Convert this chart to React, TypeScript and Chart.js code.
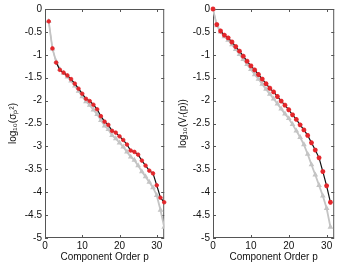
import React, { useEffect, useRef } from "react";
import { Chart, registerables } from "chart.js";

Chart.register(...registerables);

const pLeft = [1, 2, 3, 4, 5, 6, 7, 8, 9, 10, 11, 12, 13, 14, 15, 16, 17, 18, 19, 20, 21, 22, 23, 24, 25, 26, 27, 28, 29, 30, 31, 32];
const sigmaRed = [-0.27, -0.86, -1.17, -1.33, -1.39, -1.45, -1.53, -1.63, -1.74, -1.85, -1.96, -2.01, -2.09, -2.19, -2.34, -2.46, -2.53, -2.66, -2.7, -2.78, -2.86, -2.96, -3.09, -3.12, -3.18, -3.31, -3.42, -3.53, -3.59, -3.85, -4.12, -4.22];
const sigmaGray = [-0.27, -0.87, -1.15, -1.32, -1.4, -1.48, -1.57, -1.68, -1.79, -1.91, -2.02, -2.1, -2.2, -2.3, -2.43, -2.55, -2.63, -2.76, -2.83, -2.92, -3.01, -3.12, -3.23, -3.3, -3.42, -3.55, -3.66, -3.78, -3.9, -4.07, -4.39, -4.76];

const pRight = [0, 1, 2, 3, 4, 5, 6, 7, 8, 9, 10, 11, 12, 13, 14, 15, 16, 17, 18, 19, 20, 21, 22, 23, 24, 25, 26, 27, 28, 29, 30, 31];
const vRed = [0, -0.34, -0.48, -0.57, -0.63, -0.72, -0.82, -0.92, -1.03, -1.14, -1.24, -1.33, -1.43, -1.53, -1.63, -1.73, -1.81, -1.91, -2.01, -2.1, -2.2, -2.31, -2.41, -2.53, -2.64, -2.76, -2.92, -3.08, -3.25, -3.55, -3.86, -4.22];
const vGray = [0, -0.36, -0.5, -0.6, -0.68, -0.78, -0.88, -0.99, -1.1, -1.21, -1.32, -1.43, -1.53, -1.64, -1.75, -1.86, -1.96, -2.07, -2.18, -2.29, -2.39, -2.52, -2.66, -2.8, -2.96, -3.17, -3.4, -3.62, -3.85, -4.08, -4.35, -4.76];

const xTicks = [0, 10, 20, 30];
const yTicks = [0, -0.5, -1, -1.5, -2, -2.5, -3, -3.5, -4, -4.5, -5];

const FONT = "'Liberation Sans', Arial, sans-serif";
const RED = "#e3262b";
const GRAY = "#c4c4c4";

const framePlugin = {
  id: "frame",
  beforeDatasetsDraw(chart: any) {
    const { ctx, chartArea } = chart;
    const { left, right, top, bottom } = chartArea;
    ctx.save();
    ctx.strokeStyle = "#555";
    ctx.lineWidth = 1;
    ctx.strokeRect(left + 0.5, top + 0.5, right - left - 1, bottom - top - 1);
    const xs = chart.scales.x;
    const ys = chart.scales.y;
    ctx.beginPath();
    xTicks.forEach((v) => {
      const px = Math.round(xs.getPixelForValue(v)) + 0.5;
      ctx.moveTo(px, bottom);
      ctx.lineTo(px, bottom - 3);
      ctx.moveTo(px, top);
      ctx.lineTo(px, top + 3);
    });
    yTicks.forEach((v) => {
      const py = Math.round(ys.getPixelForValue(v)) + 0.5;
      ctx.moveTo(left, py);
      ctx.lineTo(left + 3, py);
      ctx.moveTo(right, py);
      ctx.lineTo(right - 3, py);
    });
    ctx.stroke();
    ctx.restore();
  },
};

function makeConfig(
  xs: number[],
  red: number[],
  gray: number[],
  title: string,
  yWidth: number,
  padRight: number,
  redStyle: string
): any {
  return {
    type: "line",
    data: {
      datasets: [
        {
          data: xs.map((x, i) => ({ x, y: red[i] })),
          borderColor: "#111",
          borderWidth: 1.2,
          segment: {
            borderColor: (c: any) => (c.p0DataIndex < 2 ? GRAY : undefined),
          },
          pointBackgroundColor: RED,
          pointBorderColor: RED,
          pointStyle: redStyle,
          pointRadius: redStyle === "star" ? 2.4 : 1.8,
          pointBorderWidth: redStyle === "star" ? 1.5 : 0.8,
          tension: 0,
          clip: false,
          order: 1,
        },
        {
          data: xs.map((x, i) => ({ x, y: gray[i] })),
          borderColor: GRAY,
          borderWidth: 1.8,
          pointBackgroundColor: GRAY,
          pointBorderColor: GRAY,
          pointStyle: "triangle",
          pointRadius: 1.5,
          tension: 0,
          order: 2,
        },
      ],
    },
    options: {
      responsive: false,
      animation: false,
      events: [],
      layout: { padding: { top: 7, right: padRight, left: 0, bottom: 0 } },
      plugins: { legend: { display: false }, tooltip: { enabled: false } },
      scales: {
        x: {
          type: "linear",
          min: 0,
          max: 32,
          afterBuildTicks: (s: any) => {
            s.ticks = xTicks.map((v) => ({ value: v }));
          },
          afterFit: (s: any) => {
            s.height = 25;
          },
          grid: { display: false, drawTicks: false },
          border: { display: false },
          ticks: {
            padding: 2,
            color: "#111",
            font: { family: FONT, size: 10 },
            maxRotation: 0,
            callback: (v: any) => String(v),
          },
          title: {
            display: true,
            text: "Component Order p",
            color: "#111",
            font: { family: FONT, size: 10 },
            padding: { top: 0, bottom: 0 },
          },
        },
        y: {
          type: "linear",
          min: -5,
          max: 0,
          afterBuildTicks: (s: any) => {
            s.ticks = yTicks.map((v) => ({ value: v }));
          },
          afterFit: (s: any) => {
            s.width = yWidth;
          },
          grid: { display: false, drawTicks: false },
          border: { display: false },
          ticks: {
            padding: 3,
            color: "#111",
            font: { family: FONT, size: 10 },
            callback: (v: any) => String(v),
          },
          title: {
            display: true,
            text: title,
            color: "#111",
            font: { family: FONT, size: 10 },
            padding: { top: 7, bottom: 0 },
          },
        },
      },
    },
    plugins: [framePlugin],
  };
}

function ChartBox(props: { cfg: () => any; left: number }) {
  const ref = useRef<HTMLCanvasElement | null>(null);
  useEffect(() => {
    if (!ref.current) return;
    const chart = new Chart(ref.current, props.cfg());
    return () => chart.destroy();
  }, []);
  return (
    <canvas
      ref={ref}
      width={170}
      height={263}
      style={{ position: "absolute", left: props.left, top: 0, width: 170, height: 263 }}
    />
  );
}

export default function App() {
  useEffect(() => {
    document.body.style.margin = "0";
    document.body.style.background = "#fff";
  }, []);
  return (
    <div style={{ position: "fixed", left: 0, top: 0, width: 340, height: 263, background: "#fff" }}>
      <ChartBox
        left={0}
        cfg={() => makeConfig(pLeft, sigmaRed, sigmaGray, "log₁₀(σₚ²)", 45, 1, "circle")}
      />
      <ChartBox
        left={170}
        cfg={() => makeConfig(pRight, vRed, vGray, "log₁₀(Vᵣ(p))", 43, 3, "star")}
      />
    </div>
  );
}
